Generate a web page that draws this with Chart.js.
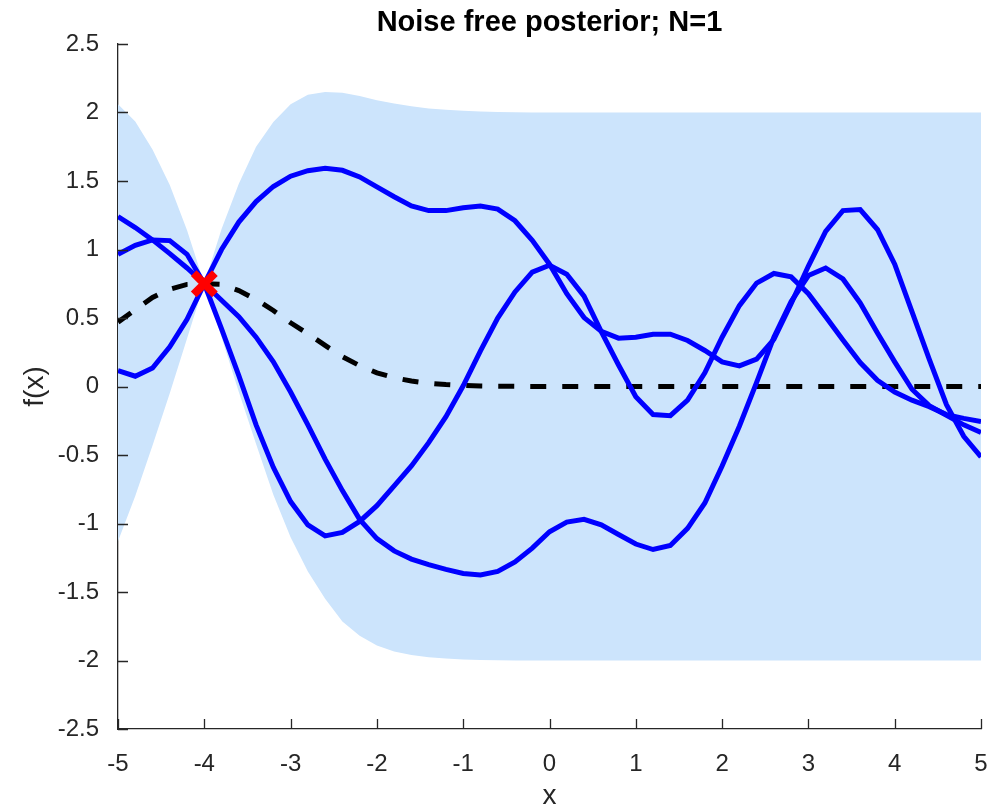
<!DOCTYPE html>
<html>
<head>
<meta charset="utf-8">
<title>Noise free posterior; N=1</title>
<script src="https://cdn.jsdelivr.net/npm/chart.js@4.4.1/dist/chart.umd.min.js"></script>
<style>
  html, body { margin: 0; padding: 0; background: #fff; }
  #wrap { width: 1004px; height: 810px; }
</style>
</head>
<body>
<div id="wrap"><canvas id="posteriorChart" width="1004" height="810"></canvas></div>
<script>
// grid de x (paso 0.2)
const xs = [-5, -4.8, -4.6, -4.4, -4.2, -4, -3.8, -3.6, -3.4, -3.2, -3, -2.8, -2.6, -2.4, -2.2, -2,
  -1.8, -1.6, -1.4, -1.2, -1, -0.8, -0.6, -0.4, -0.2, 0, 0.2, 0.4, 0.6, 0.8, 1, 1.2, 1.4, 1.6, 1.8, 2,
  2.2, 2.4, 2.6, 2.8, 3, 3.2, 3.4, 3.6, 3.8, 4, 4.2, 4.4, 4.6, 4.8, 5];

// muestras del posterior
const sampleA = [1.24, 1.16, 1.07, 0.97, 0.865, 0.75, 0.63, 0.51, 0.36, 0.18, -0.04, -0.28, -0.53, -0.76, -0.97, -1.11,
  -1.2, -1.26, -1.3, -1.335, -1.365, -1.375, -1.35, -1.28, -1.18, -1.06, -0.99, -0.97, -1.01, -1.08, -1.15, -1.19,
  -1.16, -1.035, -0.85, -0.58, -0.29, 0.03, 0.36, 0.62, 0.81, 0.865, 0.785, 0.61, 0.39, 0.18, -0.02, -0.14, -0.21, -0.28, -0.335];
const sampleB = [0.965, 1.03, 1.07, 1.065, 0.965, 0.75, 0.42, 0.08, -0.28, -0.59, -0.84, -1.01, -1.09, -1.065, -0.985, -0.87,
  -0.725, -0.58, -0.41, -0.22, 0.005, 0.26, 0.5, 0.69, 0.835, 0.885, 0.82, 0.66, 0.4, 0.157, -0.075, -0.205,
  -0.213, -0.1, 0.1, 0.36, 0.59, 0.755, 0.825, 0.8, 0.677, 0.51, 0.34, 0.175, 0.045, -0.04, -0.1, -0.147, -0.205, -0.233, -0.255];
const sampleC = [0.115, 0.075, 0.135, 0.29, 0.49, 0.75, 1.0, 1.2, 1.35, 1.46, 1.535, 1.575, 1.593, 1.578, 1.53, 1.457,
  1.385, 1.318, 1.284, 1.284, 1.305, 1.318, 1.295, 1.21, 1.067, 0.893, 0.677, 0.503, 0.402, 0.353, 0.359, 0.382,
  0.382, 0.336, 0.263, 0.18, 0.151, 0.2, 0.344, 0.605, 0.879, 1.133, 1.284, 1.292, 1.146, 0.893, 0.547, 0.2, -0.132, -0.363, -0.514];

// media y banda (media +/- 2 sd)
const meanY = [0.47, 0.56, 0.65, 0.71, 0.745, 0.75, 0.745, 0.7, 0.635, 0.555, 0.465, 0.385, 0.3, 0.218, 0.152, 0.1,
  0.064, 0.04, 0.024, 0.014, 0.008, 0.004, 0.002, 0.001, 0, 0, 0, 0, 0, 0, 0, 0,
  0, 0, 0, 0, 0, 0, 0, 0, 0, 0, 0, 0, 0, 0, 0, 0, 0, 0, 0];
const upperY = [2.06, 1.935, 1.73, 1.47, 1.14, 0.75, 1.15, 1.48, 1.75, 1.93, 2.06, 2.13, 2.15, 2.145, 2.12, 2.09,
  2.065, 2.045, 2.03, 2.02, 2.012, 2.008, 2.004, 2.002, 2, 2, 2, 2, 2, 2, 2, 2,
  2, 2, 2, 2, 2, 2, 2, 2, 2, 2, 2, 2, 2, 2, 2, 2, 2, 2, 2];
const lowerY = [-1.13, -0.8, -0.43, -0.05, 0.35, 0.75, 0.36, -0.04, -0.42, -0.79, -1.1, -1.35, -1.55, -1.715, -1.82, -1.89,
  -1.935, -1.96, -1.976, -1.986, -1.992, -1.996, -1.998, -2, -2, -2, -2, -2, -2, -2, -2, -2,
  -2, -2, -2, -2, -2, -2, -2, -2, -2, -2, -2, -2, -2, -2, -2, -2, -2, -2, -2];

// observacion
const obsX = [-4];
const obsY = [0.75];

// ticks
const xTicks = [-5, -4, -3, -2, -1, 0, 1, 2, 3, 4, 5];
const yTicks = [-2.5, -2, -1.5, -1, -0.5, 0, 0.5, 1, 1.5, 2, 2.5];

const titleText = 'Noise free posterior; N=1';
const axisColor = '#262626';
const fontFamily = '"Liberation Sans", Arial, Helvetica, sans-serif';

const toPoints = (ys) => xs.map((x, i) => ({ x: x, y: ys[i] }));

// ticks hacia adentro + titulo centrado sobre el area de ejes
const axesDecor = {
    id: 'axesDecor',
    afterDraw(chart) {
        const { ctx, chartArea, scales } = chart;
        const tickLen = 10;
        ctx.save();
        ctx.strokeStyle = axisColor;
        ctx.lineWidth = 1.3;
        ctx.beginPath();
        xTicks.forEach(v => {
            const px = Math.round(scales.x.getPixelForValue(v)) + 0.5;
            ctx.moveTo(px, chartArea.bottom);
            ctx.lineTo(px, chartArea.bottom - tickLen);
        });
        yTicks.forEach(v => {
            const py = Math.round(scales.y.getPixelForValue(v)) + 0.5;
            ctx.moveTo(chartArea.left, py);
            ctx.lineTo(chartArea.left + tickLen, py);
        });
        ctx.stroke();

        ctx.font = 'bold 29px ' + fontFamily;
        ctx.fillStyle = '#000';
        ctx.textAlign = 'center';
        ctx.textBaseline = 'alphabetic';
        ctx.fillText(titleText, (chartArea.left + chartArea.right) / 2, 31);
        ctx.restore();
    }
};

Chart.defaults.font.family = fontFamily;

const ctx = document.getElementById('posteriorChart').getContext('2d');
new Chart(ctx, {
    type: 'line',
    data: {
        datasets: [
            {
                label: 'obs',
                data: obsX.map((x, i) => ({ x: x, y: obsY[i] })),
                showLine: false,
                pointStyle: 'crossRot',
                pointRadius: 15,
                pointBorderWidth: 8,
                pointBorderColor: '#ff0000',
                pointBackgroundColor: '#ff0000',
                order: 0,
                clip: false
            },
            {
                label: 'sample 1',
                data: toPoints(sampleA),
                borderColor: '#0000ff',
                borderWidth: 5,
                pointRadius: 0,
                fill: false,
                order: 1,
                clip: 0
            },
            {
                label: 'sample 2',
                data: toPoints(sampleB),
                borderColor: '#0000ff',
                borderWidth: 5,
                pointRadius: 0,
                fill: false,
                order: 1,
                clip: 0
            },
            {
                label: 'sample 3',
                data: toPoints(sampleC),
                borderColor: '#0000ff',
                borderWidth: 5,
                pointRadius: 0,
                fill: false,
                order: 1,
                clip: 0
            },
            {
                label: 'mean',
                data: toPoints(meanY),
                borderColor: '#000000',
                borderWidth: 5,
                borderDash: [16, 16],
                pointRadius: 0,
                fill: false,
                order: 2,
                clip: 0
            },
            {
                label: 'upper',
                data: toPoints(upperY),
                borderWidth: 0,
                borderColor: 'rgba(0,0,0,0)',
                backgroundColor: 'rgb(204, 228, 252)',
                pointRadius: 0,
                fill: '+1',
                order: 3,
                clip: 0
            },
            {
                label: 'lower',
                data: toPoints(lowerY),
                borderWidth: 0,
                borderColor: 'rgba(0,0,0,0)',
                pointRadius: 0,
                fill: false,
                order: 3,
                clip: 0
            }
        ]
    },
    options: {
        responsive: false,
        devicePixelRatio: 1,
        animation: false,
        events: [],
        layout: { padding: { top: 44, right: 19, left: 0, bottom: 0 } },
        plugins: {
            legend: { display: false },
            title: { display: false },
            tooltip: { enabled: false }
        },
        scales: {
            x: {
                type: 'linear',
                min: -5,
                max: 5,
                afterBuildTicks: (scale) => { scale.ticks = xTicks.map(v => ({ value: v })); },
                afterFit: (scale) => { scale.height = 81; },
                grid: { display: false },
                border: { display: true, color: axisColor, width: 1.3 },
                ticks: {
                    autoSkip: false,
                    maxRotation: 0,
                    padding: 13,
                    color: axisColor,
                    font: { size: 24 },
                    callback: (v) => String(v)
                },
                title: {
                    display: true,
                    text: 'x',
                    color: axisColor,
                    font: { size: 28, lineHeight: 1.0 },
                    padding: { top: 0, bottom: 0 }
                }
            },
            y: {
                type: 'linear',
                min: -2.5,
                max: 2.5,
                afterBuildTicks: (scale) => { scale.ticks = yTicks.map(v => ({ value: v })); },
                afterFit: (scale) => { scale.width = 118; },
                grid: { display: false },
                border: { display: true, color: axisColor, width: 1.3 },
                ticks: {
                    autoSkip: false,
                    padding: 11,
                    color: axisColor,
                    font: { size: 24 },
                    callback: (v) => String(v)
                },
                title: {
                    display: true,
                    text: 'f(x)',
                    color: axisColor,
                    font: { size: 28, lineHeight: 1.1 },
                    padding: { top: 20, bottom: 0 }
                }
            }
        }
    },
    plugins: [axesDecor]
});
</script>
</body>
</html>
